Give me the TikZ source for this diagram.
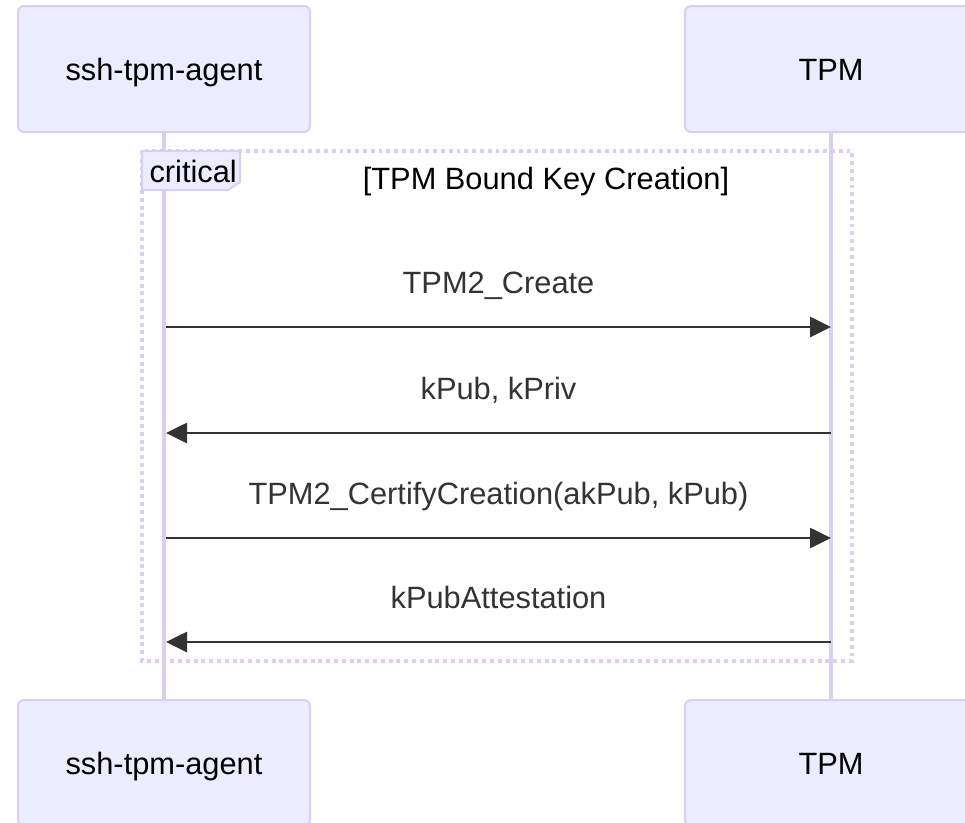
\documentclass[tikz,border=0pt]{standalone}
\usepackage{fontspec}
\setmainfont{Liberation Sans}
\usetikzlibrary{arrows.meta}
\definecolor{actorfill}{HTML}{ECECFF}
\definecolor{actorline}{HTML}{DACEF3}
\definecolor{msgline}{HTML}{333333}

\begin{document}
\begin{tikzpicture}[x=1pt,y=-1pt,
  actor/.style={draw=actorline,line width=2pt,fill=actorfill,rounded corners=6pt,
    minimum width=292pt,minimum height=126pt,text height=23pt,text depth=0pt,
    font=\fontsize{30.8}{36}\selectfont},
  lifeline/.style={draw=actorline,line width=3.5pt},
  msg/.style={draw=msgline,line width=2.7pt,-{Triangle[length=21pt,width=20pt]}},
  msglabel/.style={text=msgline,font=\fontsize{30.8}{36}\selectfont,anchor=base,yshift=34pt},
  framebox/.style={draw=actorline,line width=3.5pt,dash pattern=on 3.9pt off 3.9pt}]
\clip (0,0) rectangle (965,822);

% Nodes (participants)
\node[actor] (agentTop) at (164,69) {ssh-tpm-agent};
\node[actor] (tpmTop) at (831,69) {TPM};
\node[actor] (agentBot) at (164,763) {ssh-tpm-agent};
\node[actor] (tpmBot) at (831,763) {TPM};

% Lifelines
\draw[lifeline] (agentTop.south) -- (agentBot.north);
\draw[lifeline] (tpmTop.south) -- (tpmBot.north);

% Critical region
\draw[framebox] (142,151) rectangle (852,661);
\draw[draw=actorline,line width=2pt,fill=actorfill]
  (142,151) -- (240,151) -- (240,182) -- (228,190) -- (142,190) -- cycle;
\node[anchor=base west,font=\fontsize{30.8}{36}\selectfont] (critLabel) at (146,182) {critical};
\node[anchor=base,font=\fontsize{30.8}{36}\selectfont] (critTitle) at (546,189) {[TPM Bound Key Creation]};

% Message end points
\coordinate (a1) at (agentTop.south |- 0,327);
\coordinate (t1) at (tpmTop.south |- 0,327);
\coordinate (a2) at (agentTop.south |- 0,433);
\coordinate (t2) at (tpmTop.south |- 0,433);
\coordinate (a3) at (agentTop.south |- 0,538);
\coordinate (t3) at (tpmTop.south |- 0,538);
\coordinate (a4) at (agentTop.south |- 0,642);
\coordinate (t4) at (tpmTop.south |- 0,642);

% Messages
\draw[msg] ([xshift=2pt]a1) -- (t1) node[midway,msglabel] {TPM2\_Create};
\draw[msg] (t2) -- ([xshift=2pt]a2) node[midway,msglabel] {kPub, kPriv};
\draw[msg] ([xshift=2pt]a3) -- (t3) node[midway,msglabel] {TPM2\_CertifyCreation(akPub, kPub)};
\draw[msg] (t4) -- ([xshift=2pt]a4) node[midway,msglabel] {kPubAttestation};
\end{tikzpicture}
\end{document}
